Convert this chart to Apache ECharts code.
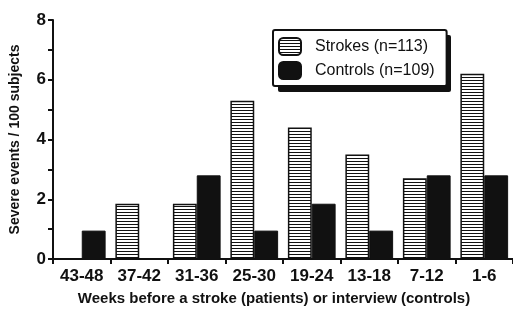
<!DOCTYPE html>
<html>
<head>
<meta charset="utf-8">
<script src="https://cdn.jsdelivr.net/npm/echarts@6/dist/echarts.min.js"></script>
<style>
  html, body { margin: 0; padding: 0; background: #fff; }
  #main { width: 513px; height: 311px; }
</style>
</head>
<body>
<div id="main"></div>
<script>
// weeks before event, oldest first
var weeks = ['43-48', '37-42', '31-36', '25-30', '19-24', '13-18', '7-12', '1-6'];
var strokes = [0, 1.85, 1.85, 5.3, 4.4, 3.5, 2.7, 6.2];
var controls = [0.95, 0, 2.8, 0.95, 1.85, 0.95, 2.8, 2.8];
var yTicks = [0, 2, 4, 6, 8];

// horizontal hatching for the strokes bars
var hatch = document.createElement('canvas');
hatch.width = 6;
hatch.height = 3;
var hctx = hatch.getContext('2d');
hctx.fillStyle = '#fff';
hctx.fillRect(0, 0, 6, 3);
hctx.fillStyle = '#111';
hctx.fillRect(0, 2, 6, 1);

var font = '"Liberation Sans", Arial, sans-serif';

var myChart = echarts.init(document.getElementById('main'));
var option = {
  animation: false,
  backgroundColor: '#fff',
  textStyle: { fontFamily: font, color: '#111' },
  grid: { left: 53, right: -3, top: 20, bottom: 44, containLabel: false },
  // drop shadow behind the legend box
  graphic: [{
    type: 'rect',
    left: 278, top: 35, z: 1,
    shape: { width: 173, height: 57, r: 2 },
    style: { fill: '#111' }
  }],
  legend: {
    orient: 'vertical',
    left: 273,
    top: 30,
    z: 5,
    padding: [7, 12, 6, 5],
    itemWidth: 22,
    itemHeight: 17,
    itemGap: 5,
    icon: 'roundRect',
    backgroundColor: '#fff',
    borderColor: '#111',
    borderWidth: 2,
    borderRadius: 2,
    textStyle: { fontFamily: font, fontSize: 16, color: '#111', padding: [0, 0, 0, 9] },
    data: ['Strokes (n=113)', 'Controls (n=109)']
  },
  xAxis: {
    type: 'category',
    data: weeks,
    name: 'Weeks before a stroke (patients) or interview (controls)',
    nameLocation: 'middle',
    nameGap: 32,
    nameTextStyle: { fontFamily: font, fontSize: 15, fontWeight: 'bold', color: '#111', padding: [0, 18, 0, 0] },
    axisLine: { lineStyle: { color: '#111', width: 2 } },
    axisTick: { show: true, length: 5, lineStyle: { color: '#111', width: 2 } },
    axisLabel: { fontFamily: font, fontSize: 17, fontWeight: 'bold', color: '#111', margin: 9 }
  },
  yAxis: {
    type: 'value',
    min: 0,
    max: 8,
    interval: 1,
    name: 'Severe events / 100 subjects',
    nameLocation: 'middle',
    nameGap: 31,
    nameTextStyle: { fontFamily: font, fontSize: 14, fontWeight: 'bold', color: '#111' },
    axisLine: { show: true, lineStyle: { color: '#111', width: 2 } },
    axisTick: { show: true, length: 5, lineStyle: { color: '#111', width: 2 } },
    splitLine: { show: false },
    axisLabel: {
      fontFamily: font, fontSize: 17, fontWeight: 'bold', color: '#111', margin: 7,
      formatter: function (v) { return yTicks.indexOf(v) >= 0 ? String(v) : ''; }
    }
  },
  series: [
    {
      name: 'Strokes (n=113)',
      type: 'bar',
      data: strokes,
      barGap: '0%',
      barCategoryGap: '17%',
      itemStyle: { color: { image: hatch, repeat: 'repeat' }, borderColor: '#111', borderWidth: 1.5 }
    },
    {
      name: 'Controls (n=109)',
      type: 'bar',
      data: controls,
      barGap: '0%',
      barCategoryGap: '17%',
      itemStyle: { color: '#111', borderColor: '#111', borderWidth: 1 }
    }
  ]
};
myChart.setOption(option);
</script>
</body>
</html>
